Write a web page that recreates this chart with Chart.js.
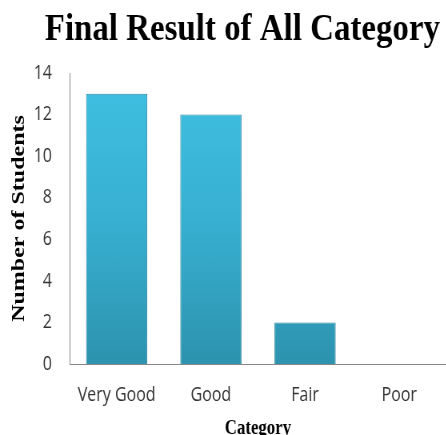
<!DOCTYPE html>
<html><head><meta charset="utf-8">
<script src="https://cdn.jsdelivr.net/npm/chart.js@4/dist/chart.umd.min.js"></script>
<style>
html,body{margin:0;padding:0;background:#fff;overflow:hidden;width:446px;height:435px}
#wrap{width:558px;height:435px;transform:scaleX(0.8);transform-origin:0 0}
</style>
</head><body><div id="wrap"><canvas id="c"></canvas></div>
<script>
const categories = ["Very Good", "Good", "Fair", "Poor"];
const students = [13, 12, 2, 0];
const yTicks = [0, 2, 4, 6, 8, 10, 12, 14];
const chartTitle = "Final Result of All Category";
const xTitle = "Category";
const yTitle = "Number of Students";

const titlePlugin = {
  id: 'compressedTitle',
  afterDraw(chart) {
    const ctx = chart.ctx;
    ctx.save();
    ctx.font = 'bold 38px "Liberation Serif", "Times New Roman", serif';
    ctx.fillStyle = '#000';
    ctx.textAlign = 'center';
    ctx.textBaseline = 'alphabetic';
    const w = ctx.measureText(chartTitle).width;
    const s = 494 / w;
    ctx.translate(303, 40);
    ctx.scale(s, 1);
    ctx.fillText(chartTitle, 0, 0);
    ctx.restore();
  }
};

new Chart(document.getElementById('c'), {
  type: 'bar',
  data: {
    labels: categories,
    datasets: [{
      data: students,
      backgroundColor(ctx) {
        const ch = ctx.chart;
        const a = ch.chartArea;
        if (!a) return '#3bb8dc';
        const g = ch.ctx.createLinearGradient(0, a.top, 0, a.bottom);
        g.addColorStop(0, '#3fc0e2');
        g.addColorStop(0.5, '#38b0d2');
        g.addColorStop(1, '#2d93ae');
        return g;
      },
      borderColor: '#2a87a0',
      borderWidth: 1,
      barPercentage: 0.65,
      categoryPercentage: 1.0
    }]
  },
  options: {
    responsive: true,
    maintainAspectRatio: false,
    animation: false,
    layout: { padding: { top: 73, right: 0, left: 0, bottom: 0 } },
    plugins: { legend: { display: false }, tooltip: { enabled: false }, title: { display: false } },
    scales: {
      x: {
        afterFit(axis) { axis.height = 71; },
        grid: { display: false, drawTicks: false },
        border: { display: true, color: '#868686' },
        ticks: { color: '#333', font: { family: '"Open Sans", sans-serif', size: 20 }, padding: 19 },
        title: { display: true, text: xTitle, color: '#000', font: { family: '"Liberation Serif", serif', size: 21, weight: 'bold' }, padding: { top: 0, bottom: -6 } }
      },
      y: {
        min: 0, max: 14,
        afterBuildTicks(axis) { axis.ticks = yTicks.map(v => ({ value: v })); },
        afterFit(axis) { axis.width = 87; },
        grid: { display: false, drawTicks: false },
        border: { display: true, color: '#868686' },
        ticks: { color: '#333', font: { family: '"Open Sans", sans-serif', size: 20 }, padding: 22 },
        title: { display: true, text: yTitle, color: '#000', font: { family: '"Liberation Serif", serif', size: 24, weight: 'bold' }, padding: { top: 9, bottom: 0 } }
      }
    }
  },
  plugins: [titlePlugin]
});
</script></body></html>
